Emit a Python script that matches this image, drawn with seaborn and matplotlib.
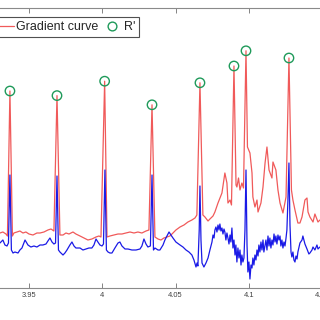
import matplotlib
matplotlib.use("Agg")
import matplotlib.pyplot as plt
from matplotlib.lines import Line2D
from matplotlib.legend_handler import HandlerLine2D
import numpy as np
import pandas as pd
import seaborn as sns

# ---- data (time in s, amplitude in arbitrary units) ----
grad_t = [3.9302, 3.9322, 3.9343, 3.9353, 3.9370, 3.9387, 3.9397, 3.9418, 3.9438, 3.9459,
          3.9479, 3.9500, 3.9527, 3.9554, 3.9575, 3.9602, 3.9629, 3.9650, 3.9670, 3.9691,
          3.9711, 3.9732, 3.9752, 3.9773, 3.9800, 3.9820, 3.9848, 3.9875, 3.9902, 3.9929,
          3.9957, 3.9977, 3.9991, 4.0016, 4.0032, 4.0052, 4.0079, 4.0107, 4.0134, 4.0161,
          4.0189, 4.0216, 4.0243, 4.0270, 4.0298, 4.0318, 4.0339, 4.0359, 4.0380, 4.0400,
          4.0420, 4.0441, 4.0461, 4.0482, 4.0502, 4.0530, 4.0557, 4.0584, 4.0611, 4.0632,
          4.0645, 4.0666, 4.0686, 4.0700, 4.0721, 4.0734, 4.0755, 4.0768, 4.0789, 4.0816,
          4.0836, 4.0850, 4.0857, 4.0871, 4.0881, 4.0898, 4.0912, 4.0918, 4.0929, 4.0939,
          4.0952, 4.0963, 4.0980, 4.0990, 4.1007, 4.1021, 4.1027, 4.1041, 4.1055, 4.1062,
          4.1082, 4.1096, 4.1110, 4.1123, 4.1137, 4.1157, 4.1164, 4.1184, 4.1198, 4.1212,
          4.1232, 4.1253, 4.1273, 4.1290, 4.1300, 4.1314, 4.1334, 4.1348, 4.1362, 4.1382,
          4.1396, 4.1403, 4.1416, 4.1437, 4.1450, 4.1471, 4.1484]
grad_v = [0.175, 0.20, 0.15, 0.10, 3.725, 0.10, 0.175, 0.20, 0.225, 0.175,
          0.20, 0.15, 0.125, 0.175, 0.175, 0.20, 0.25, 0.275, 0.225, 3.61,
          0.125, 0.125, 0.175, 0.15, 0.20, 0.15, 0.10, 0.05, 0.0, 0.025,
          0.075, 0.10, 0.075, 3.97, 0.075, 0.10, 0.125, 0.15, 0.15, 0.175,
          0.20, 0.175, 0.20, 0.175, 0.225, 0.25, 3.38, 0.075, 0.025, 0.0,
          0.05, 0.075, 0.10, 0.175, 0.25, 0.325, 0.375, 0.45, 0.50, 0.55,
          0.625, 3.93, 0.625, 0.575, 0.475, 0.525, 0.60, 0.70, 0.925, 1.175,
          1.675, 1.425, 0.925, 1.00, 0.875, 4.35, 1.375, 1.325, 1.55, 1.25,
          1.425, 1.30, 4.73, 2.325, 2.175, 1.675, 1.075, 0.825, 1.00, 0.70,
          0.925, 1.325, 1.925, 2.325, 1.75, 1.55, 1.95, 1.75, 1.25, 0.925,
          0.675, 1.075, 4.55, 1.25, 1.00, 0.75, 0.425, 0.425, 0.575, 1.00,
          1.05, 0.70, 0.575, 0.45, 0.65, 0.45, 0.50]

ecg_t = [3.9302, 3.9322, 3.9336, 3.9350, 3.9360, 3.9370, 3.9380, 3.9391, 3.9404, 3.9425,
         3.9438, 3.9452, 3.9473, 3.9493, 3.9513, 3.9534, 3.9554, 3.9575, 3.9595, 3.9616,
         3.9629, 3.9643, 3.9657, 3.9670, 3.9681, 3.9691, 3.9701, 3.9711, 3.9732, 3.9745,
         3.9759, 3.9779, 3.9793, 3.9807, 3.9820, 3.9848, 3.9868, 3.9889, 3.9909, 3.9929,
         3.9943, 3.9957, 3.9970, 3.9984, 3.9998, 4.0008, 4.0018, 4.0028, 4.0039, 4.0052,
         4.0066, 4.0086, 4.0107, 4.0120, 4.0134, 4.0155, 4.0175, 4.0202, 4.0230, 4.0257,
         4.0270, 4.0284, 4.0298, 4.0311, 4.0328, 4.0339, 4.0349, 4.0359, 4.0380, 4.0393,
         4.0414, 4.0427, 4.0441, 4.0455, 4.0468, 4.0482, 4.0502, 4.0530, 4.0550, 4.0571,
         4.0591, 4.0611, 4.0625, 4.0639, 4.0646, 4.0652, 4.0661, 4.0666, 4.0673, 4.0680,
         4.0693, 4.0707, 4.0721, 4.0734, 4.0748, 4.0755, 4.0762, 4.0768, 4.0775, 4.0782,
         4.0789, 4.0796, 4.0802, 4.0809, 4.0816, 4.0823, 4.0830, 4.0836, 4.0843, 4.0850,
         4.0857, 4.0864, 4.0871, 4.0877, 4.0884, 4.0891, 4.0898, 4.0905, 4.0911, 4.0918,
         4.0925, 4.0932, 4.0939, 4.0946, 4.0952, 4.0959, 4.0966, 4.0973, 4.0980, 4.0987,
         4.0993, 4.1000, 4.1007, 4.1014, 4.1021, 4.1027, 4.1034, 4.1041, 4.1048, 4.1055,
         4.1062, 4.1068, 4.1075, 4.1082, 4.1089, 4.1096, 4.1102, 4.1109, 4.1116, 4.1123,
         4.1130, 4.1137, 4.1143, 4.1150, 4.1157, 4.1164, 4.1171, 4.1178, 4.1184, 4.1191,
         4.1198, 4.1205, 4.1212, 4.1218, 4.1225, 4.1232, 4.1239, 4.1246, 4.1253, 4.1259,
         4.1266, 4.1273, 4.1280, 4.1287, 4.1293, 4.1300, 4.1307, 4.1314, 4.1321, 4.1328,
         4.1334, 4.1348, 4.1362, 4.1368, 4.1375, 4.1382, 4.1396, 4.1409, 4.1416, 4.1430,
         4.1437, 4.1450, 4.1464, 4.1471, 4.1484]
ecg_v = [-0.075, 0.0, -0.125, -0.15, -0.075, 1.625, -0.25, -0.325, -0.30, -0.325,
         -0.25, -0.20, 0.0, -0.125, -0.175, -0.15, -0.175, -0.125, -0.125, -0.10,
         -0.025, 0.05, -0.05, -0.10, -0.075, 1.60, -0.25, -0.30, -0.375, -0.325,
         -0.25, -0.125, -0.05, -0.15, -0.20, -0.20, -0.25, -0.225, -0.20, -0.20,
         -0.125, 0.025, -0.05, -0.125, -0.15, -0.10, 1.75, -0.25, -0.30, -0.325,
         -0.325, -0.20, -0.075, -0.05, -0.15, -0.225, -0.225, -0.25, -0.25, -0.225,
         -0.15, 0.025, -0.10, -0.175, -0.15, 1.625, -0.25, -0.20, -0.25, -0.25,
         -0.125, 0.0, 0.10, 0.20, 0.125, 0.05, -0.05, -0.125, -0.175, -0.25,
         -0.30, -0.375, -0.50, -0.675, -0.575, -0.65, 0.25, 1.35, 0.0, -0.575,
         -0.675, -0.575, -0.45, -0.25, -0.05, 0.125, 0.05, 0.25, 0.325, 0.20,
         0.375, 0.25, 0.40, 0.225, 0.30, 0.15, 0.275, 0.20, 0.0, 0.175,
         0.05, -0.10, 0.125, -0.05, 0.30, -0.20, 0.0, -0.375, -0.125, -0.55,
         -0.20, -0.45, -0.25, -0.625, -0.375, -0.55, -0.45, 0.25, 1.75, -0.125,
         -0.80, -0.55, -0.975, -0.625, -0.70, -0.45, -0.625, -0.375, -0.50, -0.25,
         -0.40, -0.125, -0.30, -0.05, -0.25, 0.0, -0.30, -0.15, 0.0, -0.25,
         0.10, -0.15, 0.05, -0.20, 0.0, -0.125, 0.15, -0.05, 0.10, -0.10,
         0.125, 0.0, 0.10, -0.15, 0.0, -0.20, -0.05, -0.15, 0.05, 0.25,
         1.00, 1.925, 0.375, -0.30, -0.425, -0.30, -0.50, -0.55, -0.40, -0.475,
         -0.30, -0.075, 0.0, 0.10, 0.0, -0.10, -0.225, -0.35, -0.325, -0.25,
         -0.175, -0.25, -0.125, -0.225, -0.175]

rpeak_t = [3.9370, 3.9691, 4.0016, 4.0339, 4.0666, 4.0898, 4.0980, 4.1273]
rpeak_v = [3.725, 3.61, 3.97, 3.38, 3.93, 4.35, 4.73, 4.55]

tick_vals = [3.95, 4.0, 4.05, 4.1, 4.15]
tick_labels = ["3.95", "4", "4.05", "4.1", "4.15"]

RED = "#f05a5a"
BLUE = "#1a1ae6"
GREEN = "#1f9a5a"

sns.set_style("white")
plt.rcParams["font.family"] = ["Liberation Sans", "DejaVu Sans"]

fig = plt.figure(figsize=(3.2, 3.2), dpi=100)
ax = fig.add_axes([-15.0 / 320, 0.1, 351.9 / 320, 0.875])

grad_df = pd.DataFrame({"t": grad_t, "v": grad_v})
ecg_df = pd.DataFrame({"t": ecg_t, "v": ecg_v})
pk_df = pd.DataFrame({"t": rpeak_t, "v": rpeak_v})

sns.lineplot(data=grad_df, x="t", y="v", ax=ax, color=RED, linewidth=0.9,
             estimator=None, sort=False, legend=False, zorder=2)
sns.lineplot(data=ecg_df, x="t", y="v", ax=ax, color=BLUE, linewidth=0.9,
             estimator=None, sort=False, legend=False, zorder=3)
sns.scatterplot(data=pk_df, x="t", y="v", ax=ax, marker="o", s=46,
                facecolor="none", edgecolor=GREEN, linewidth=1.0,
                legend=False, zorder=4)

ax.set_xlim(3.92, 4.16)
ax.set_ylim(-1.2, 5.8)
ax.set_xticks(tick_vals)
ax.set_xticklabels(tick_labels)
ax.set_yticks([])
ax.set_xlabel("")
ax.set_ylabel("")
ax.tick_params(axis="x", which="both", direction="in", length=3.3, width=0.6,
               colors="#707070", labelcolor="#404040", labelsize=5.4, pad=3.2,
               top=True, bottom=True)
for side in ("left", "right"):
    ax.spines[side].set_visible(False)
for side in ("top", "bottom"):
    ax.spines[side].set_color("#8a8a8a")
    ax.spines[side].set_linewidth(0.8)


class RightMarkerHandler(HandlerLine2D):
    def get_xdata(self, legend, xdescent, ydescent, width, height, fontsize):
        xdata, xm = super().get_xdata(legend, xdescent, ydescent, width, height, fontsize)
        return xdata, [width - xdescent - 3.5]


h_line = Line2D([], [], color=RED, linewidth=0.9)
h_circ = Line2D([], [], color="none", marker="o", markersize=6.3,
                markerfacecolor="none", markeredgecolor=GREEN, markeredgewidth=1.0)
leg = ax.legend([h_line, h_circ], ["Gradient curve", "R'"], ncol=2,
                loc="upper right", bbox_to_anchor=(139 / 320, 1 - 17.3 / 320),
                bbox_transform=fig.transFigure, borderaxespad=0,
                fontsize=9, handlelength=1.6, handletextpad=0.16,
                columnspacing=0.3, borderpad=0.3, numpoints=1,
                fancybox=False, framealpha=1, edgecolor="#505050",
                handler_map={h_circ: RightMarkerHandler(numpoints=1)})
leg.get_frame().set_linewidth(0.8)

fig.savefig("out.png", dpi=100)
